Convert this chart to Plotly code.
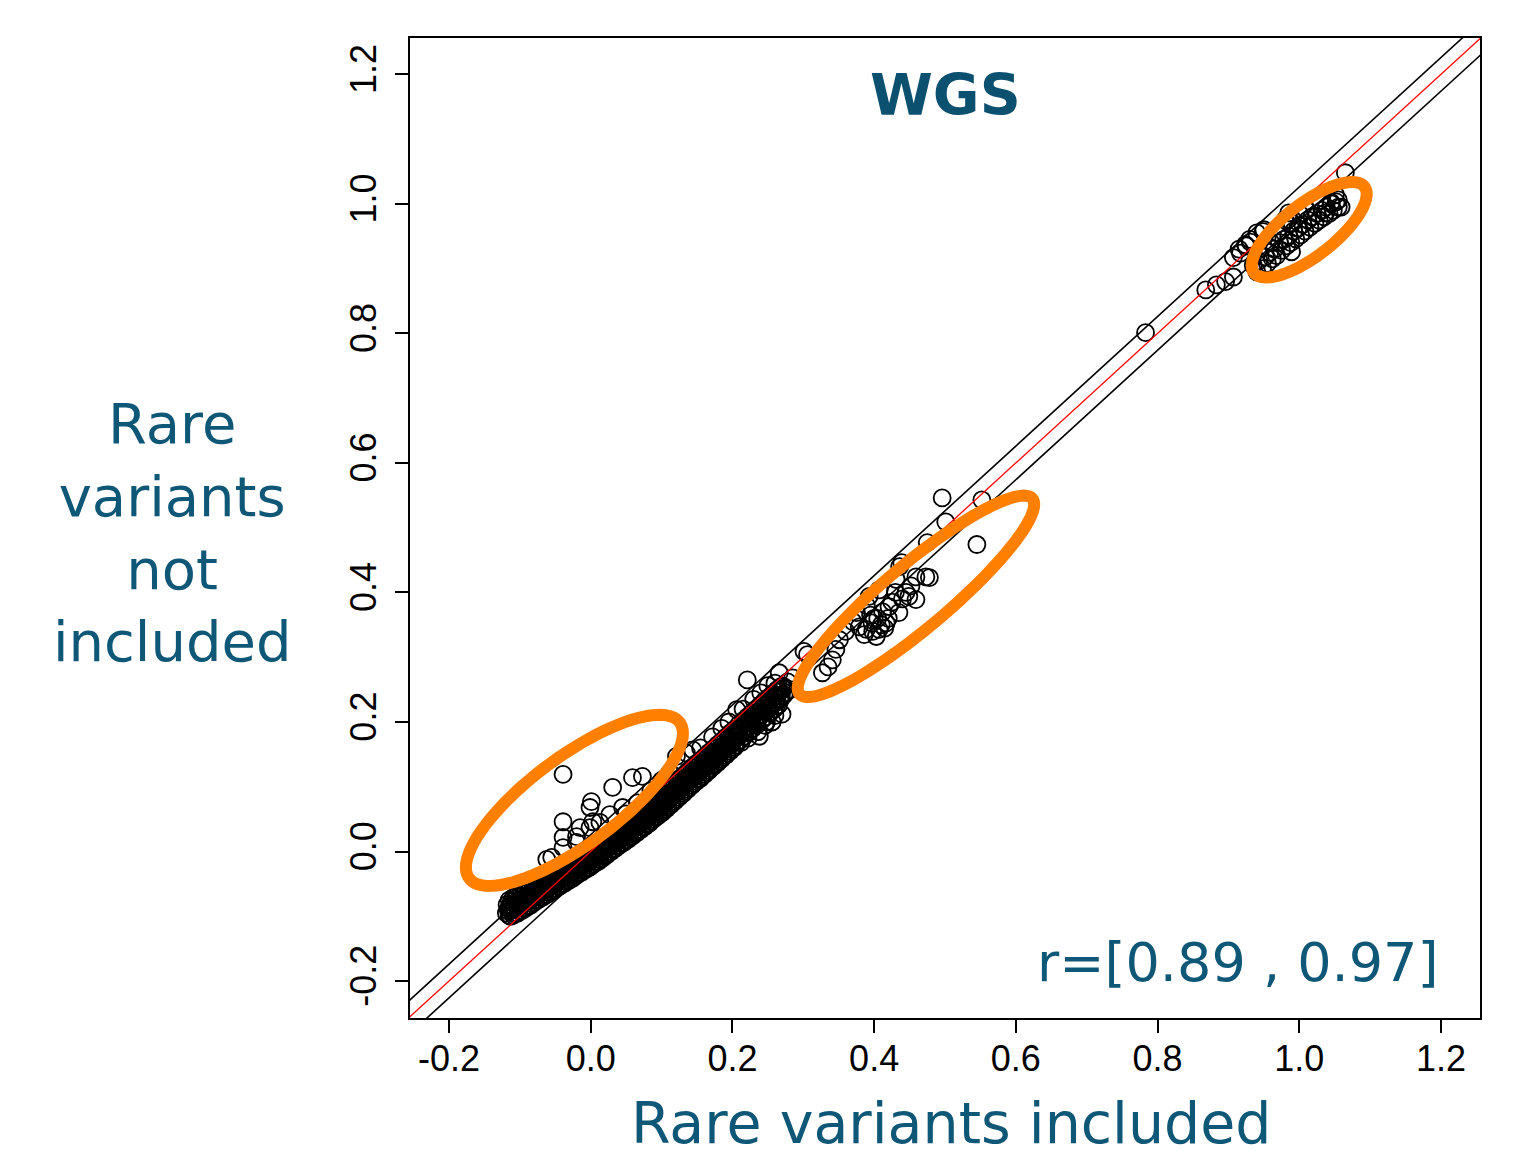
import numpy as np
import plotly.graph_objects as go

# ---------------- data ----------------
tick_vals = [-0.2, 0.0, 0.2, 0.4, 0.6, 0.8, 1.0, 1.2]
tick_text = ["-0.2", "0.0", "0.2", "0.4", "0.6", "0.8", "1.0", "1.2"]

# dense band of points near the origin
band_x = [
    -0.118, -0.116, -0.119, -0.115, -0.112, -0.110, -0.113, -0.109,
    -0.106, -0.104, -0.107, -0.103, -0.100, -0.098, -0.101, -0.097,
    -0.094, -0.092, -0.095, -0.091, -0.088, -0.086, -0.089, -0.085,
    -0.082, -0.080, -0.083, -0.079, -0.076, -0.074, -0.077, -0.073,
    -0.070, -0.068, -0.071, -0.067, -0.064, -0.062, -0.065, -0.061,
    -0.058, -0.056, -0.059, -0.055, -0.052, -0.050, -0.053, -0.049,
    -0.046, -0.044, -0.047, -0.043, -0.040, -0.038, -0.041, -0.037,
    -0.034, -0.032, -0.035, -0.031, -0.028, -0.026, -0.029, -0.025,
    -0.022, -0.020, -0.023, -0.019, -0.016, -0.014, -0.017, -0.013,
    -0.010, -0.008, -0.011, -0.007, -0.004, -0.002, -0.005, -0.001,
    0.002, 0.004, 0.001, 0.005, 0.008, 0.010, 0.007, 0.011,
    0.014, 0.016, 0.013, 0.017, 0.020, 0.022, 0.019, 0.023,
    0.026, 0.028, 0.025, 0.029, 0.032, 0.034, 0.031, 0.035,
    0.038, 0.040, 0.037, 0.041, 0.044, 0.046, 0.043, 0.047,
    0.050, 0.052, 0.049, 0.053, 0.056, 0.058, 0.055, 0.059,
    0.062, 0.064, 0.061, 0.065, 0.068, 0.070, 0.067, 0.071,
    0.074, 0.076, 0.073, 0.077, 0.080, 0.082, 0.079, 0.083,
    0.086, 0.088, 0.085, 0.089, 0.092, 0.094, 0.091, 0.095,
    0.098, 0.100, 0.097, 0.101, 0.104, 0.106, 0.103, 0.107,
    0.110, 0.112, 0.109, 0.113, 0.116, 0.118, 0.115, 0.119,
    0.122, 0.124, 0.121, 0.125, 0.128, 0.130, 0.127, 0.131,
    0.134, 0.136, 0.133, 0.137, 0.140, 0.142, 0.139, 0.143,
    0.146, 0.148, 0.145, 0.149, 0.152, 0.154, 0.151, 0.155,
    0.158, 0.160, 0.157, 0.161, 0.164, 0.166, 0.163, 0.167,
    0.170, 0.172, 0.169, 0.173, 0.176, 0.178, 0.175, 0.179,
    0.182, 0.184, 0.181, 0.185, 0.188, 0.190, 0.187, 0.191,
    0.194, 0.196, 0.193, 0.197, 0.200, 0.202, 0.199, 0.203,
    0.206, 0.207, 0.205, 0.212, 0.213, 0.211, 0.218, 0.219, 0.217,
    0.224, 0.225, 0.223, 0.230, 0.231, 0.229, 0.236, 0.237, 0.235,
    0.242, 0.243, 0.241, 0.248, 0.249, 0.247, 0.254, 0.255, 0.253,
    0.260, 0.261, 0.259, 0.266, 0.267, 0.265, 0.272, 0.273,
]
band_y = [
    -0.082, -0.088, -0.095, -0.099, -0.077, -0.085, -0.091, -0.098,
    -0.073, -0.080, -0.088, -0.095, -0.069, -0.077, -0.084, -0.091,
    -0.065, -0.072, -0.080, -0.087, -0.060, -0.068, -0.076, -0.083,
    -0.056, -0.063, -0.071, -0.078, -0.051, -0.059, -0.067, -0.074,
    -0.047, -0.055, -0.063, -0.070, -0.043, -0.051, -0.059, -0.066,
    -0.039, -0.047, -0.055, -0.062, -0.034, -0.042, -0.050, -0.057,
    -0.030, -0.038, -0.046, -0.053, -0.026, -0.034, -0.042, -0.049,
    -0.022, -0.030, -0.038, -0.045, -0.018, -0.026, -0.034, -0.041,
    -0.013, -0.021, -0.029, -0.036, -0.009, -0.017, -0.025, -0.032,
    -0.005, -0.013, -0.021, -0.028, -0.001, -0.009, -0.017, -0.024,
    0.004, -0.004, -0.012, -0.019, 0.008, 0.000, -0.008, -0.015,
    0.013, 0.005, -0.003, -0.010, 0.018, 0.010, 0.002, -0.005,
    0.023, 0.015, 0.007, 0.000, 0.028, 0.020, 0.012, 0.005,
    0.033, 0.025, 0.017, 0.010, 0.037, 0.029, 0.021, 0.014,
    0.042, 0.034, 0.026, 0.019, 0.047, 0.039, 0.031, 0.024,
    0.052, 0.044, 0.036, 0.029, 0.057, 0.049, 0.041, 0.034,
    0.062, 0.054, 0.046, 0.039, 0.067, 0.059, 0.051, 0.044,
    0.073, 0.065, 0.057, 0.050, 0.078, 0.070, 0.062, 0.055,
    0.083, 0.075, 0.067, 0.060, 0.089, 0.081, 0.073, 0.066,
    0.095, 0.087, 0.079, 0.072, 0.101, 0.093, 0.085, 0.078,
    0.107, 0.099, 0.091, 0.084, 0.113, 0.105, 0.097, 0.090,
    0.119, 0.111, 0.103, 0.096, 0.125, 0.117, 0.109, 0.102,
    0.131, 0.123, 0.115, 0.108, 0.136, 0.128, 0.120, 0.113,
    0.142, 0.134, 0.126, 0.119, 0.148, 0.140, 0.132, 0.125,
    0.154, 0.146, 0.138, 0.131, 0.160, 0.152, 0.144, 0.137,
    0.166, 0.158, 0.150, 0.143, 0.172, 0.164, 0.156, 0.149,
    0.178, 0.170, 0.162, 0.155, 0.184, 0.176, 0.168, 0.161,
    0.188, 0.178, 0.168, 0.192, 0.183, 0.172, 0.198, 0.188, 0.178,
    0.204, 0.194, 0.184, 0.210, 0.200, 0.190, 0.216, 0.206, 0.196,
    0.222, 0.212, 0.202, 0.228, 0.218, 0.208, 0.234, 0.224, 0.214,
    0.240, 0.230, 0.220, 0.246, 0.236, 0.226, 0.252, 0.242,
]

# more points inside the solid black part of the band
fill_x = [
    -0.115, -0.114, -0.116, -0.113, -0.109, -0.108, -0.110, -0.107,
    -0.103, -0.102, -0.104, -0.101, -0.097, -0.096, -0.098, -0.095,
    -0.091, -0.090, -0.092, -0.089, -0.085, -0.084, -0.086, -0.083,
    -0.079, -0.078, -0.080, -0.077, -0.073, -0.072, -0.074, -0.071,
    -0.067, -0.066, -0.068, -0.065, -0.061, -0.060, -0.062, -0.059,
    -0.055, -0.054, -0.056, -0.053, -0.049, -0.048, -0.050, -0.047,
    -0.043, -0.042, -0.044, -0.041, -0.037, -0.036, -0.038, -0.035,
    -0.031, -0.030, -0.032, -0.029, -0.025, -0.024, -0.026, -0.023,
    -0.019, -0.018, -0.020, -0.017, -0.013, -0.012, -0.014, -0.011,
    -0.007, -0.006, -0.008, -0.005, -0.001, 0.000, -0.002, 0.001,
    0.005, 0.006, 0.004, 0.007, 0.011, 0.012, 0.010, 0.013,
    0.017, 0.018, 0.016, 0.019, 0.023, 0.024, 0.022, 0.025,
    0.029, 0.030, 0.028, 0.031, 0.035, 0.036, 0.034, 0.037,
    0.041, 0.042, 0.040, 0.043, 0.047, 0.048, 0.046, 0.049,
    0.053, 0.054, 0.052, 0.055, 0.059, 0.060, 0.058, 0.061,
    0.065, 0.066, 0.064, 0.067, 0.071, 0.072, 0.070, 0.073,
    0.077, 0.078, 0.076, 0.079, 0.083, 0.084, 0.082, 0.085,
    0.089, 0.090, 0.088, 0.091, 0.095, 0.096, 0.094, 0.097,
    0.101, 0.102, 0.100, 0.103, 0.107, 0.108, 0.106, 0.109,
    0.113, 0.114, 0.112, 0.115, 0.119, 0.120, 0.118, 0.121,
    0.125, 0.126, 0.124, 0.127, 0.131, 0.132, 0.130, 0.133,
    0.137, 0.138, 0.136, 0.139, 0.143, 0.144, 0.142, 0.145,
    0.149, 0.150, 0.148, 0.151, 0.155, 0.156, 0.154, 0.157,
    0.161, 0.162, 0.160, 0.163, 0.167, 0.168, 0.166, 0.169,
    0.173, 0.174, 0.172, 0.175, 0.179, 0.180, 0.178, 0.181,
    0.185, 0.186, 0.184, 0.187, 0.191, 0.192, 0.190, 0.193,
    0.197, 0.198, 0.196, 0.199, 0.203, 0.204, 0.202, 0.205,
    0.209, 0.209, 0.215, 0.215, 0.221, 0.221, 0.227, 0.227,
    0.233, 0.233, 0.239, 0.239, 0.245, 0.245, 0.251, 0.251,
    0.257, 0.257, 0.263, 0.263, 0.269, 0.269,
]
fill_y = [
    -0.075, -0.084, -0.092, -0.100, -0.071, -0.080, -0.088, -0.096,
    -0.067, -0.076, -0.084, -0.092, -0.063, -0.072, -0.080, -0.088,
    -0.059, -0.068, -0.076, -0.084, -0.055, -0.064, -0.072, -0.080,
    -0.050, -0.059, -0.067, -0.075, -0.046, -0.055, -0.063, -0.071,
    -0.042, -0.051, -0.059, -0.067, -0.038, -0.047, -0.055, -0.063,
    -0.034, -0.043, -0.051, -0.059, -0.029, -0.038, -0.046, -0.054,
    -0.025, -0.034, -0.042, -0.050, -0.021, -0.030, -0.038, -0.046,
    -0.017, -0.026, -0.034, -0.042, -0.013, -0.022, -0.030, -0.038,
    -0.008, -0.017, -0.025, -0.033, -0.004, -0.013, -0.021, -0.029,
    0.000, -0.009, -0.017, -0.025, 0.004, -0.005, -0.013, -0.021,
    0.009, 0.000, -0.008, -0.016, 0.013, 0.004, -0.004, -0.012,
    0.018, 0.009, 0.001, -0.007, 0.023, 0.014, 0.006, -0.002,
    0.028, 0.019, 0.011, 0.003, 0.033, 0.024, 0.016, 0.008,
    0.038, 0.029, 0.021, 0.013, 0.042, 0.033, 0.025, 0.017,
    0.047, 0.038, 0.030, 0.022, 0.052, 0.043, 0.035, 0.027,
    0.057, 0.048, 0.040, 0.032, 0.062, 0.053, 0.045, 0.037,
    0.067, 0.058, 0.050, 0.042, 0.072, 0.063, 0.055, 0.047,
    0.078, 0.069, 0.061, 0.053, 0.083, 0.074, 0.066, 0.058,
    0.088, 0.079, 0.071, 0.063, 0.094, 0.085, 0.077, 0.069,
    0.100, 0.091, 0.083, 0.075, 0.106, 0.097, 0.089, 0.081,
    0.112, 0.103, 0.095, 0.087, 0.118, 0.109, 0.101, 0.093,
    0.124, 0.115, 0.107, 0.099, 0.130, 0.121, 0.113, 0.105,
    0.136, 0.127, 0.119, 0.111, 0.141, 0.132, 0.124, 0.116,
    0.147, 0.138, 0.130, 0.122, 0.153, 0.144, 0.136, 0.128,
    0.159, 0.150, 0.142, 0.134, 0.165, 0.156, 0.148, 0.140,
    0.171, 0.162, 0.154, 0.146, 0.177, 0.168, 0.160, 0.152,
    0.183, 0.174, 0.166, 0.158, 0.189, 0.180, 0.172, 0.164,
    0.196, 0.180, 0.202, 0.186, 0.208, 0.192, 0.214, 0.198,
    0.220, 0.204, 0.226, 0.210, 0.232, 0.216, 0.238, 0.222,
    0.244, 0.228, 0.250, 0.234, 0.255, 0.240,
]

# scattered points above the band, and the upper end of the band
spread_x = [
    -0.039, 0.031, 0.059, 0.073, 0.001, -0.001, -0.039, -0.015, 0.003,
    -0.039, -0.020, -0.001, 0.027, 0.013, -0.039, -0.055, 0.031, -0.020,
    0.045, 0.121, 0.135, -0.062, 0.050, 0.066, 0.085, 0.100, 0.112,
    0.144, 0.155, 0.172, 0.185, 0.195, 0.206, 0.215, 0.221, 0.230,
    0.240, 0.250, 0.260, 0.206, 0.210, 0.212, 0.216, 0.218, 0.222,
    0.224, 0.228, 0.233, 0.236, 0.243, 0.246, 0.252, 0.256, 0.258,
    0.262, 0.265, 0.268, 0.272, 0.275, 0.278, 0.282, 0.285, 0.270,
    0.260, 0.248, 0.238, 0.266, 0.306,
]
spread_y = [
    0.119, 0.099, 0.114, 0.116, 0.077, 0.068, 0.046, 0.037, 0.046,
    0.022, 0.023, 0.037, 0.057, 0.045, 0.006, -0.009, 0.003, 0.014,
    0.068, 0.147, 0.152, -0.012, 0.058, 0.075, 0.094, 0.110, 0.122,
    0.157, 0.160, 0.177, 0.190, 0.200, 0.219, 0.220, 0.265, 0.235,
    0.245, 0.256, 0.260, 0.176, 0.190, 0.168, 0.200, 0.183, 0.175,
    0.205, 0.190, 0.200, 0.185, 0.205, 0.195, 0.215, 0.200, 0.240,
    0.225, 0.250, 0.235, 0.255, 0.245, 0.262, 0.250, 0.268, 0.212,
    0.210, 0.200, 0.178, 0.276, 0.304,
]

# middle group
mid_x = [
    0.301, 0.327, 0.341, 0.346, 0.351, 0.375, 0.379, 0.389, 0.393, 0.397,
    0.403, 0.407, 0.407, 0.417, 0.421, 0.431, 0.435, 0.439, 0.436, 0.445,
    0.449, 0.459, 0.459, 0.473, 0.478, 0.475, 0.496, 0.501, 0.545, 0.552,
    0.389, 0.395, 0.400, 0.412, 0.425, 0.440, 0.452, 0.430, 0.415, 0.420,
    0.386, 0.370, 0.360, 0.335, 0.410, 0.398, 0.405,
]
mid_y = [
    0.309, 0.276, 0.296, 0.312, 0.327, 0.369, 0.347, 0.343, 0.394, 0.353,
    0.332, 0.404, 0.343, 0.353, 0.378, 0.420, 0.369, 0.446, 0.440, 0.400,
    0.394, 0.389, 0.424, 0.424, 0.423, 0.477, 0.546, 0.509, 0.474, 0.543,
    0.380, 0.365, 0.360, 0.370, 0.385, 0.390, 0.410, 0.400, 0.345, 0.360,
    0.335, 0.355, 0.340, 0.285, 0.350, 0.340, 0.360,
]

# single point and the upper group
high_x = [
    0.783, 0.868, 0.883, 0.896, 0.907, 0.907, 0.917, 0.924, 0.931, 0.949,
    0.985, 0.989, 0.980, 1.045, 1.055, 1.059, 1.037, 1.065, 1.051,
    0.935, 0.940, 0.943, 0.948, 0.952, 0.955, 0.958, 0.962, 0.965, 0.968,
    0.972, 0.975, 0.978, 0.982, 0.985, 0.988, 0.992, 0.995, 0.998, 1.002,
    1.005, 1.008, 1.012, 1.015, 1.018, 1.022, 1.025, 1.028, 1.032, 1.035,
    1.038, 1.042, 1.045, 1.048, 1.052, 1.055, 0.960, 0.970, 0.990, 1.000,
    1.010, 1.030, 0.915, 0.925, 0.940, 0.950, 0.930,
]
high_y = [
    0.801, 0.867, 0.875, 0.880, 0.887, 0.917, 0.924, 0.937, 0.941, 0.957,
    0.986, 0.926, 0.975, 1.002, 1.006, 0.995, 0.986, 1.048, 1.014,
    0.905, 0.895, 0.912, 0.900, 0.918, 0.908, 0.925, 0.915, 0.930, 0.920,
    0.940, 0.928, 0.945, 0.935, 0.950, 0.940, 0.958, 0.946, 0.962, 0.952,
    0.968, 0.958, 0.975, 0.964, 0.980, 0.970, 0.985, 0.975, 0.990, 0.980,
    0.995, 0.985, 1.000, 0.990, 1.003, 0.995, 0.940, 0.955, 0.970, 0.985,
    0.990, 1.005, 0.930, 0.935, 0.955, 0.960, 0.945,
]

# reference lines: identity and +/- band
ref_line_x = [-0.4, 1.4]
band_offsets = [0.026, -0.026]

# highlight ellipses: centre (data), semi-axes (px), angle (deg)
ell_cx = [-0.023, 0.459, 1.014]
ell_cy = [0.079, 0.394, 0.960]
ell_a = [131, 152, 70]
ell_b = [44, 32, 26]
ell_ang = [36.5, 40.0, 38.0]

# ---------------- figure ----------------
W, H = 1514, 1148          # page body has an 8 px margin
ML, MR, MT, MB = 402, 42, 30, 138
XR = [-0.255, 1.255]
YR = [-0.257, 1.256]
sx = (W - ML - MR) / (XR[1] - XR[0])
sy = (H - MT - MB) / (YR[1] - YR[0])

TEAL = "#0F5776"
ORANGE = "#FF7F00"

all_x = band_x + fill_x + spread_x + mid_x + high_x
all_y = band_y + fill_y + spread_y + mid_y + high_y

fig = go.Figure()
fig.add_trace(go.Scatter(
    x=all_x, y=all_y, mode="markers",
    marker=dict(symbol="circle-open", size=17, color="black",
                line=dict(width=1.8, color="black")),
    hoverinfo="x+y", showlegend=False,
))
for off in band_offsets:
    fig.add_trace(go.Scatter(
        x=ref_line_x, y=[v + off for v in ref_line_x], mode="lines",
        line=dict(color="black", width=1.6), showlegend=False, hoverinfo="skip",
    ))
fig.add_trace(go.Scatter(
    x=ref_line_x, y=ref_line_x, mode="lines",
    line=dict(color="#FF0000", width=1.3), showlegend=False, hoverinfo="skip",
))

t = np.linspace(0, 2 * np.pi, 121)
for cx, cy, a, b, ang in zip(ell_cx, ell_cy, ell_a, ell_b, ell_ang):
    th = np.deg2rad(ang)
    dx = a * np.cos(t) * np.cos(th) - b * np.sin(t) * np.sin(th)
    dy = a * np.cos(t) * np.sin(th) + b * np.sin(t) * np.cos(th)
    ex = cx + dx / sx
    ey = cy + dy / sy
    path = "M " + " L ".join(f"{px:.5f},{py:.5f}" for px, py in zip(ex, ey)) + " Z"
    fig.add_shape(type="path", path=path, xref="x", yref="y",
                  line=dict(color=ORANGE, width=12), layer="above")

PW = W - ML - MR
PH = H - MT - MB
fig.add_annotation(x=0.5, y=1.168, xref="x", yref="y", text="<b>WGS</b>",
                   showarrow=False, font=dict(family="DejaVu Sans", size=57, color="#0C5070"),
                   xanchor="center", yanchor="middle")
fig.add_annotation(x=1.2, y=-0.171, xref="x", yref="y", text="r=[0.89 , 0.97]",
                   showarrow=False, font=dict(family="DejaVu Sans", size=54, color=TEAL),
                   xanchor="right", yanchor="middle")
fig.add_annotation(x=(951 - 8 - ML) / PW, y=(1018 - 1123) / PH,
                   xref="paper", yref="paper", text="Rare variants included",
                   showarrow=False, font=dict(family="DejaVu Sans", size=57, color=TEAL),
                   xanchor="center", yanchor="middle")
fig.add_annotation(x=(172 - 8 - ML) / PW, y=(1018 - 532) / PH,
                   xref="paper", yref="paper",
                   text="Rare<br>variants<br>not<br>included",
                   showarrow=False, align="center",
                   font=dict(family="DejaVu Sans", size=56, color=TEAL),
                   xanchor="center", yanchor="middle")

axis_common = dict(
    showgrid=False, zeroline=False, showline=True, linecolor="black", linewidth=1.5,
    mirror=True, ticks="outside", ticklen=13, tickwidth=1.5, tickcolor="black",
    tickvals=tick_vals, ticktext=tick_text,
    tickfont=dict(family="Liberation Sans", size=36, color="black"),
)
fig.update_xaxes(range=XR, ticklabelstandoff=-5, **axis_common)
fig.update_yaxes(range=YR, tickangle=-90, ticklabelstandoff=5, **axis_common)

fig.update_layout(
    width=W, height=H,
    margin=dict(l=ML, r=MR, t=MT, b=MB, pad=0),
    plot_bgcolor="white", paper_bgcolor="white",
    showlegend=False,
)

fig.write_html("out.html")
